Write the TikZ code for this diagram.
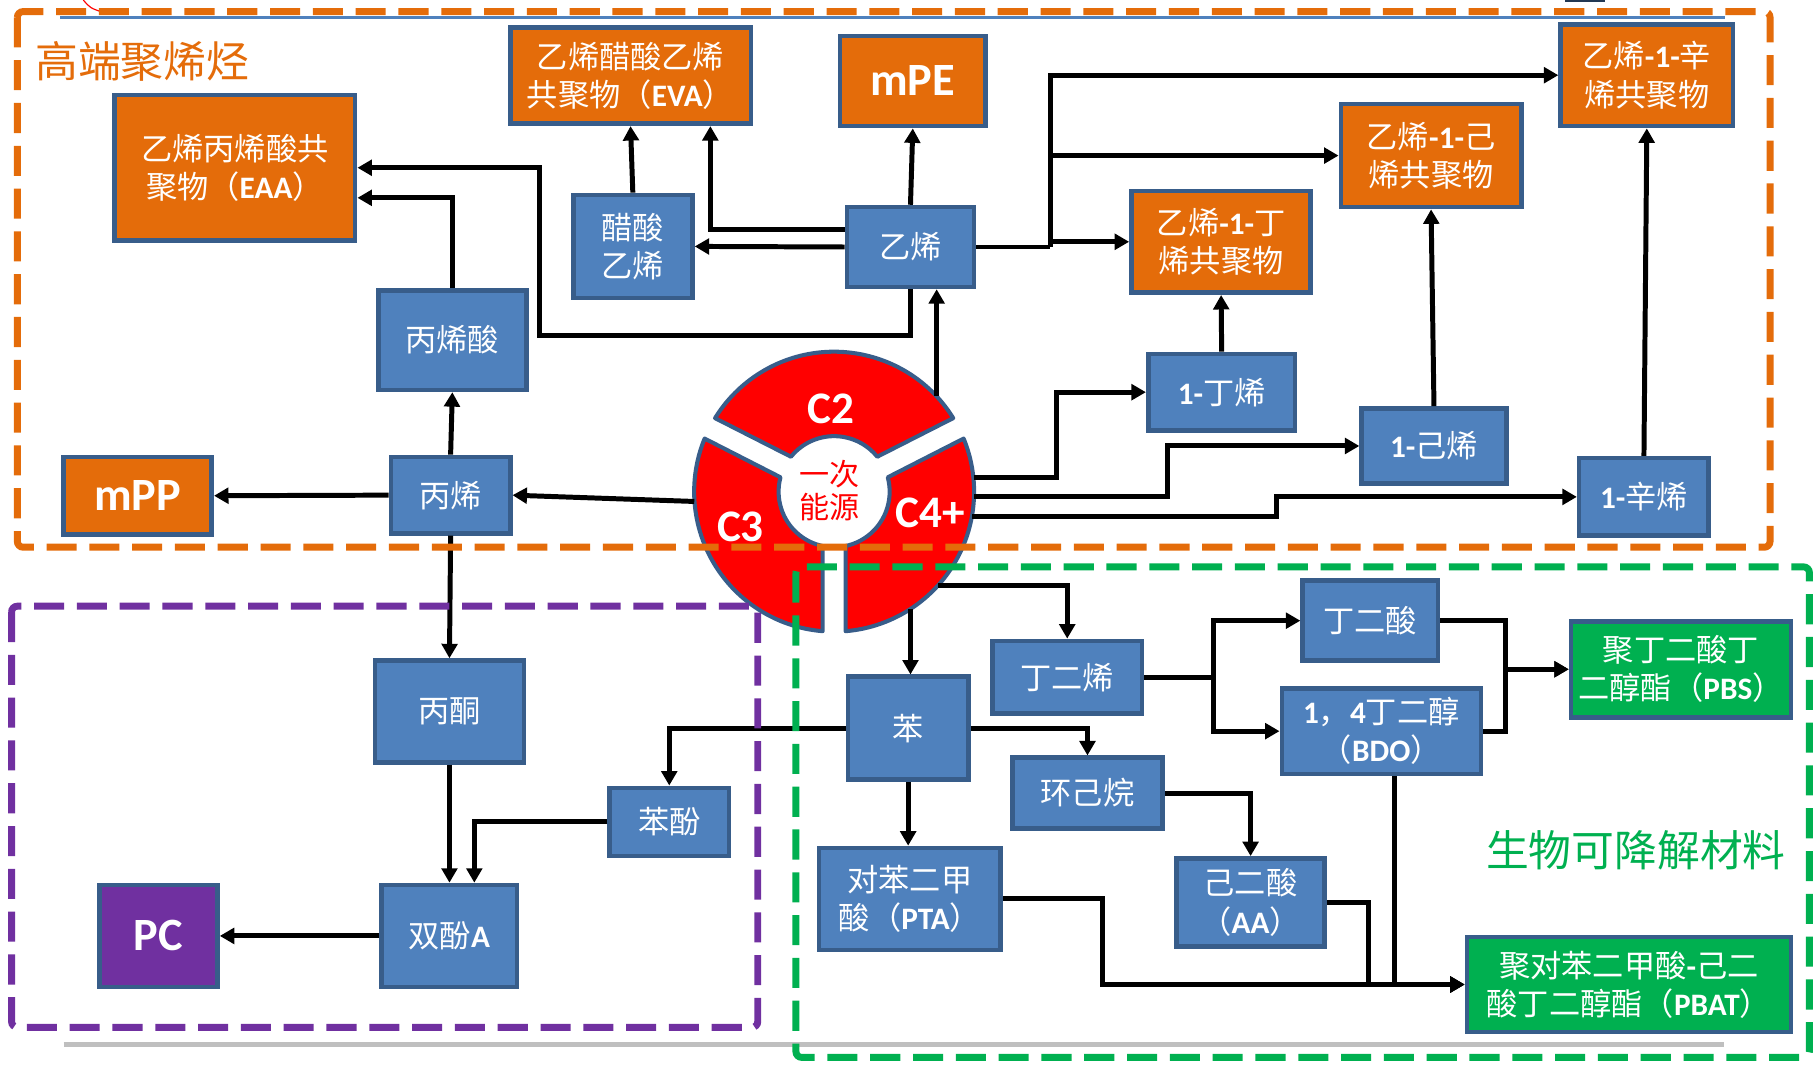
\documentclass[tikz,border=0pt]{standalone}
\usepackage{fontspec}
\setmainfont{Noto Sans CJK SC}
\newfontfamily\latfont{Carlito}
\usetikzlibrary{arrows.meta}

\definecolor{boxblue}{HTML}{4F81BD}
\definecolor{boxedge}{HTML}{385D8A}
\definecolor{boxorange}{HTML}{E46C0A}
\definecolor{boxgreen}{HTML}{00B050}
\definecolor{boxpurple}{HTML}{7030A0}

\newcommand{\lat}[1]{{\latfont\bfseries #1}}

\begin{document}
\begin{tikzpicture}[x=1pt, y=-1pt, >={Triangle[length=12.5pt,width=13.5pt]}]

    \tikzset{
        box/.style={draw=boxedge, line width=4pt, inner sep=0pt, text=white,
            align=center, font=\fontsize{27}{33}\selectfont},
        bbox/.style={box, fill=boxblue},
        obox/.style={box, fill=boxorange},
        gbox/.style={box, fill=boxgreen},
        pbox/.style={box, fill=boxpurple},
        big/.style={font=\latfont\bfseries\fontsize{40}{40}\selectfont},
        arr/.style={->, line width=4.3pt},
        seg/.style={fill=red, draw=boxedge, line width=3.5pt, line join=round},
        seglabel/.style={text=white, font=\latfont\bfseries\fontsize{39}{39}\selectfont},
        zone/.style={line width=6pt, dash pattern=on 26pt off 11pt, rounded corners=5pt}
    }

    \useasboundingbox (0,0) rectangle (1568,920);

    % polyolefin block
    \node[obox, minimum width=208pt, minimum height=126pt] (eaa)  at (203,145)    {乙烯丙烯酸共\\聚物（\lat{EAA}）};
    \node[obox, minimum width=208pt, minimum height=83pt]  (eva)  at (545,65.5)   {乙烯醋酸乙烯\\共聚物（\lat{EVA}）};
    \node[obox, big, minimum width=126pt, minimum height=78pt] (mpe) at (789,70) {mPE};
    \node[obox, minimum width=149pt, minimum height=88pt]  (coct) at (1423.5,65)  {乙烯\lat{-1-}辛\\烯共聚物};
    \node[obox, minimum width=156pt, minimum height=89pt]  (chex) at (1237,134.5) {乙烯\lat{-1-}己\\烯共聚物};
    \node[obox, minimum width=155pt, minimum height=88pt]  (cbut) at (1055.5,209) {乙烯\lat{-1-}丁\\烯共聚物};
    \node[bbox, minimum width=103pt, minimum height=89pt]  (vac)  at (547,213)    {醋酸\\乙烯};
    \node[bbox, minimum width=110pt, minimum height=69pt]  (eth)  at (787,213.5)  {乙烯};
    \node[bbox, minimum width=128pt, minimum height=86pt]  (acry) at (391,294)    {丙烯酸};
    \node[bbox, minimum width=103pt, minimum height=66pt]  (prop) at (389.5,428)  {丙烯};
    \node[obox, big, minimum width=128pt, minimum height=67pt] (mpp) at (119,428.5) {mPP};
    \node[bbox, minimum width=127pt, minimum height=66pt]  (but)  at (1056,339)   {\lat{1-}丁烯};
    \node[bbox, minimum width=125pt, minimum height=65pt]  (hex)  at (1239.5,385.5) {\lat{1-}己烯};
    \node[bbox, minimum width=112pt, minimum height=67pt]  (oct)  at (1421,429.5) {\lat{1-}辛烯};

    % PC block
    \node[bbox, minimum width=129pt, minimum height=88pt]  (acet) at (388.5,615)  {丙酮};
    \node[bbox, minimum width=103pt, minimum height=59pt]  (phen) at (578.5,710.5) {苯酚};
    \node[bbox, minimum width=117pt, minimum height=88pt]  (bpa)  at (388.5,809)  {双酚\lat{A}};
    \node[pbox, big, minimum width=102pt, minimum height=88pt] (pc) at (137,809)  {PC};

    % biodegradable block
    \node[bbox, minimum width=104pt, minimum height=89pt]  (benz) at (785,629.5)  {苯};
    \node[bbox, minimum width=129pt, minimum height=63pt]  (buta) at (922.5,585.5) {丁二烯};
    \node[bbox, minimum width=130pt, minimum height=61pt]  (chx)  at (940,685.5)  {环己烷};
    \node[bbox, minimum width=117pt, minimum height=69pt]  (sa)   at (1184.5,536.5) {丁二酸};
    \node[bbox, minimum width=172pt, minimum height=74pt]  (bdo)  at (1194,632)   {\lat{1}，\lat{4}丁二醇\\（\lat{BDO}）};
    \node[gbox, minimum width=190pt, minimum height=83pt]  (pbs)  at (1453,578.5) {聚丁二酸丁\\二醇酯（\lat{PBS}）};
    \node[bbox, minimum width=157pt, minimum height=88pt]  (pta)  at (786.5,777)  {对苯二甲\\酸（\lat{PTA}）};
    \node[bbox, minimum width=128pt, minimum height=76pt]  (aa)   at (1081,780)   {己二酸\\（\lat{AA}）};
    \node[gbox, minimum width=280pt, minimum height=82pt]  (pbat) at (1408,851)   {聚对苯二甲酸\lat{-}己二\\酸丁二醇酯（\lat{PBAT}）};

    % titles
    \node[text=boxorange, font=\fontsize{37}{37}\selectfont] (ttop) at (123,53)  {高端聚烯烃};
    \node[text=boxgreen, font=\fontsize{37}{37}\selectfont]  (tbio) at (1414,735) {生物可降解材料};

    % source wheel
    \node[circle, minimum size=242pt, inner sep=0pt] (src) at (721,425) {};
    \draw[seg] ([shift={(31.7:121pt)}]src.center) arc[start angle=31.7, end angle=148.3, radius=121pt]
        -- ([shift={(141:48pt)}]src.center) arc[start angle=141, end angle=39, radius=48pt] -- cycle;
    \draw[seg] ([shift={(157.7:121pt)}]src.center) arc[start angle=157.7, end angle=265.3, radius=121pt]
        -- ([shift={(258:48pt)}]src.center) arc[start angle=258, end angle=165, radius=48pt] -- cycle;
    \draw[seg] ([shift={(274.7:121pt)}]src.center) arc[start angle=274.7, end angle=382.3, radius=121pt]
        -- ([shift={(375:48pt)}]src.center) arc[start angle=375, end angle=282, radius=48pt] -- cycle;
    \node[seglabel] (c2) at (718,353) {C2};
    \node[seglabel] (c3) at (640,455) {C3};
    \node[seglabel] (c4) at (804,443) {C4+};
    \node[text=red, align=center, font=\fontsize{26}{29}\selectfont] (prim) at (717,424) {一次\\能源};

    % connectors, top
    \draw[arr] (eth.north) -- (mpe.south);
    \draw[arr] ([yshift=15pt]eth.west) -| ([xshift=69pt]eva.south);
    \draw[arr] (eth.west) -- (vac.east);
    \draw[arr] (vac.north) -- (eva.south);
    \draw[arr] (eth.south) |- (466,290) |- (eaa.east);
    \draw[arr] (acry.north) |- ([yshift=-26pt]eaa.east);
    \draw[arr] (prop.north) -- (acry.south);
    \draw[arr] (src.184) -- (prop.east);
    \draw[arr] (prop.west) -- (mpp.east);
    \draw[arr] (src.43) -- (src.43 |- eth.south);
    \coordinate (ej) at (908,213.5);
    \draw[line width=4.3pt] (eth.east) -- (ej);
    \draw[arr] (ej) |- (coct.west);
    \draw[arr] (ej) |- (chex.west);
    \draw[arr] (ej) |- (cbut.west);
    \draw[arr] (but.north) -- (cbut.south);
    \draw[arr] (hex.north) -- (chex.south);
    \draw[arr] (oct.north) -- (coct.south);
    \draw[arr] (src.6) -- ++(72,0) |- (but.west);
    \draw[arr] (src.-2) -- ++(167,0) |- (hex.west);
    \draw[arr] (src.-10) -- ++(263,0) |- (oct.west);

    % connectors, bottom
    \draw[arr] (prop.south) -- (acet.north);
    \draw[arr] (acet.south) -- (bpa.north);
    \draw[arr] (benz.west) -| (phen.north);
    \draw[arr] (phen.west) -| ([xshift=21.5pt]bpa.north);
    \draw[arr] (bpa.west) -- (pc.east);
    \draw[arr] (src.-57) -- (src.-57 |- benz.north);
    \draw[arr] (src.-42) -| (buta.north);
    \draw[arr] (buta.east) -- ++(60,0) |- (sa.west);
    \draw[arr] (buta.east) -- ++(60,0) |- (bdo.west);
    \draw[arr] (benz.east) -| (chx.north);
    \draw[arr] (benz.south) -- (benz.south |- pta.north);
    \draw[arr] (chx.east) -| (aa.north);
    \draw[arr] (sa.east) -- ++(56,0) |- (pbs.west);
    \draw[arr] (bdo.east) -- ++(19,0) |- (pbs.west);
    \draw[arr] (pta.east) -- ++(86,0) |- (pbat.west);
    \draw[arr] (aa.east) -- ++(36,0) |- (pbat.west);
    \draw[arr] ([xshift=11pt]bdo.south) |- (pbat.west);

    % thin rules and clipped bits
    \draw[boxblue, line width=2pt] (52,15) -- (1491,15);
    \draw[gray!50, line width=4pt] (55,903) -- (1490,903);
    \draw[red, line width=1pt] (72,0) .. controls (78,7) .. (90,11);
    \fill[boxedge!60!black] (1353,0) rectangle (1387,2);

    % dashed frames
    \draw[zone, boxorange] (15,10) rectangle (1530,473);
    \draw[zone, boxpurple] (10,524) rectangle (655,888);
    \draw[zone, boxgreen]  (688,490) rectangle (1564,914);

\end{tikzpicture}
\end{document}
